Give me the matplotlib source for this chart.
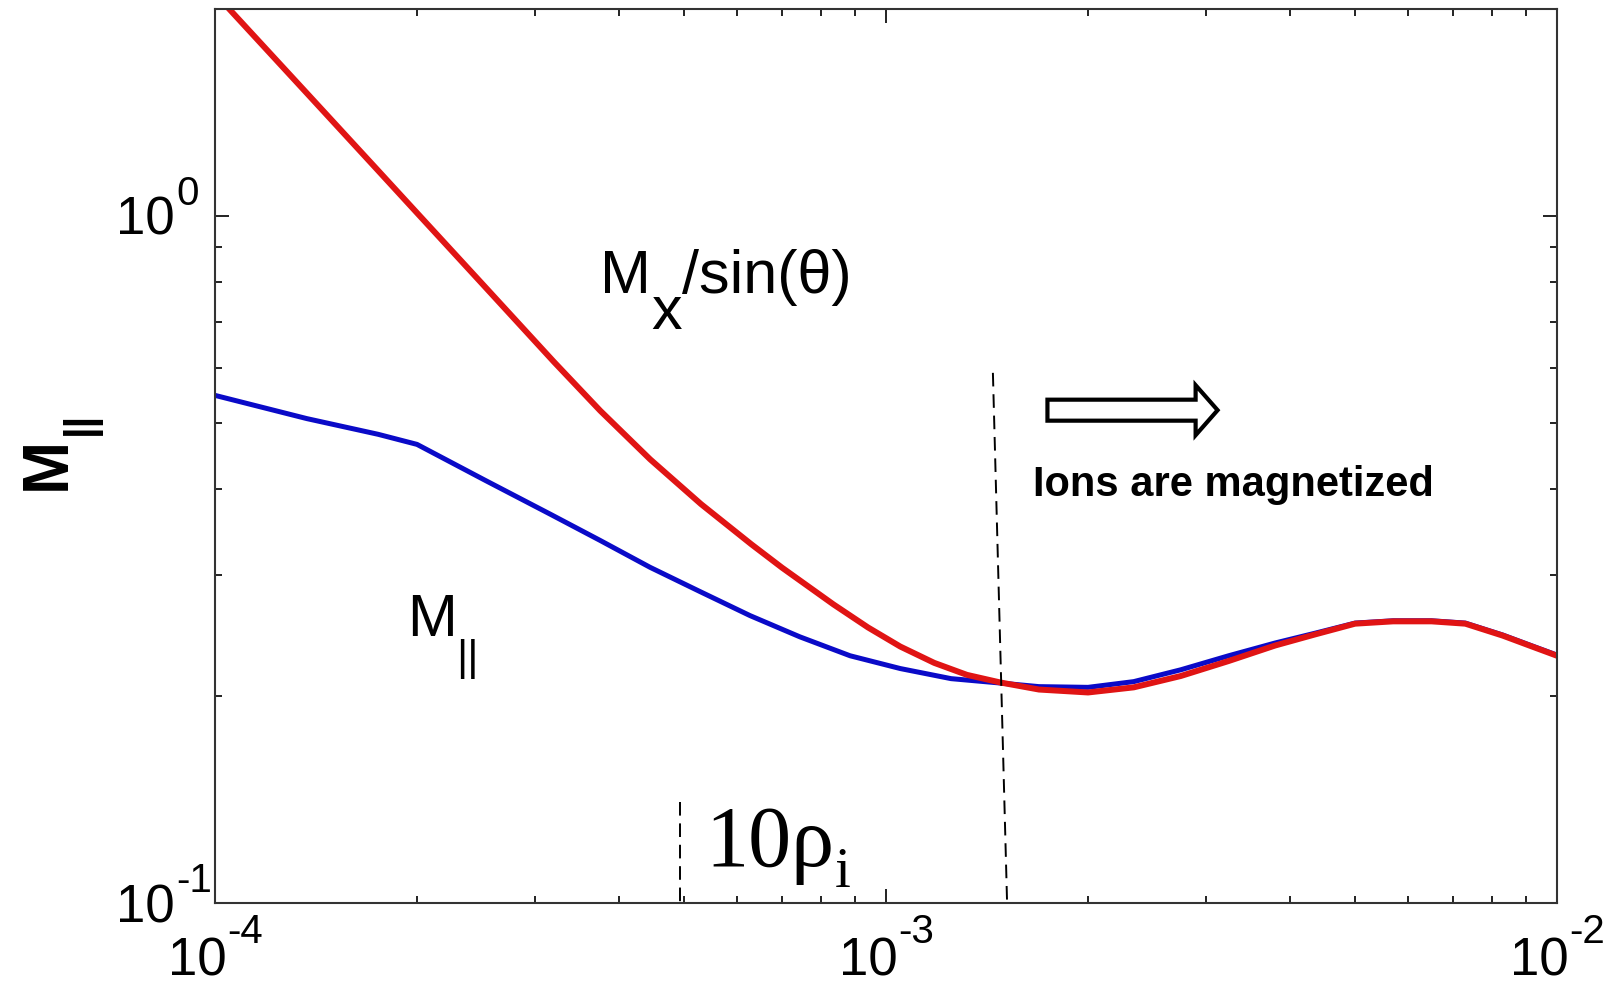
import matplotlib
matplotlib.use("Agg")
import matplotlib.pyplot as plt
from matplotlib.ticker import NullFormatter, LogLocator, FixedLocator
from matplotlib.transforms import IdentityTransform

plt.rcParams['font.family'] = ['Liberation Sans', 'DejaVu Sans']

# M_parallel (blue)
k_par = [1.0e-4, 1.37e-4, 1.75e-4, 2.0e-4, 2.53e-4, 3.16e-4, 3.75e-4, 4.45e-4,
         5.28e-4, 6.27e-4, 7.44e-4, 8.84e-4, 1.05e-3, 1.25e-3, 1.48e-3, 1.69e-3,
         2.0e-3, 2.34e-3, 2.75e-3, 3.24e-3, 3.8e-3, 4.36e-3, 5.0e-3, 5.7e-3,
         6.5e-3, 7.3e-3, 8.3e-3, 9.2e-3, 1.0e-2]
m_par = [0.548, 0.507, 0.481, 0.465, 0.412, 0.368, 0.337, 0.308,
         0.284, 0.262, 0.244, 0.229, 0.2194, 0.2121, 0.209, 0.2065,
         0.206, 0.210, 0.2185, 0.229, 0.239, 0.247, 0.2555, 0.2575,
         0.2575, 0.2555, 0.2455, 0.2365, 0.2295]

# M_x / sin(theta) (red)
k_x = [1.0e-4, 1.37e-4, 1.75e-4, 2.0e-4, 2.5e-4, 3.2e-4, 3.75e-4, 4.45e-4,
       5.3e-4, 6.3e-4, 7.0e-4, 8.35e-4, 9.4e-4, 1.05e-3, 1.18e-3, 1.32e-3,
       1.48e-3, 1.69e-3, 2.0e-3, 2.34e-3, 2.75e-3, 3.24e-3, 3.8e-3, 4.36e-3,
       5.0e-3, 5.7e-3, 6.5e-3, 7.3e-3, 8.3e-3, 9.2e-3, 1.0e-2]
m_x = [2.106, 1.509, 1.164, 1.01, 0.797, 0.613, 0.5206, 0.4424,
       0.3807, 0.3327, 0.3076, 0.272, 0.2518, 0.2362, 0.2236, 0.2148,
       0.2094, 0.2045, 0.2025, 0.206, 0.214, 0.225, 0.237, 0.246,
       0.255, 0.257, 0.257, 0.255, 0.245, 0.236, 0.229]

# dashed markers
rho_x = [4.93e-4, 4.93e-4]
rho_y = [0.1402, 0.1]
mag_x = [1.443e-3, 1.515e-3]
mag_y = [0.591, 0.1]

# decade ticks and their exponents
x_ticks = [1e-4, 1e-3, 1e-2]
x_exps = ['-4', '-3', '-2']
y_ticks = [1e-1, 1e0]
y_exps = ['-1', '0']

fig = plt.figure(figsize=(16.12, 9.84), dpi=100)
ax = fig.add_axes([0.1334, 0.0823, 0.8325, 0.9085])

ax.plot(k_par, m_par, color='#0a0ac8', lw=3.6, solid_joinstyle='round')
ax.plot(k_x, m_x, color='#e01414', lw=4.3, solid_joinstyle='round')
ax.plot(rho_x, rho_y, color='black', lw=1.4, dashes=(7, 4))
ax.plot(mag_x, mag_y, color='black', lw=1.4, dashes=(7, 4))

ax.set_xscale('log')
ax.set_yscale('log')
ax.set_xlim(1e-4, 1e-2)
ax.set_ylim(0.1, 2.0)
ax.xaxis.set_major_locator(FixedLocator(x_ticks))
ax.yaxis.set_major_locator(FixedLocator(y_ticks))
ax.xaxis.set_minor_locator(LogLocator(subs=range(2, 10)))
ax.yaxis.set_minor_locator(LogLocator(subs=range(2, 10)))
ax.xaxis.set_minor_formatter(NullFormatter())
ax.yaxis.set_minor_formatter(NullFormatter())

for s in ax.spines.values():
    s.set_linewidth(1.5)
    s.set_color('#333333')
ax.tick_params(which='both', direction='in', top=True, right=True, width=1.4, color='#222222',
               labelbottom=False, labelleft=False)
ax.tick_params(which='major', length=10)
ax.tick_params(which='minor', length=5)

# arrow
ax.annotate('', xy=(3.12e-3, 0.5215), xytext=(1.74e-3, 0.5215),
            arrowprops=dict(arrowstyle='simple,head_length=0.44,head_width=1.0,tail_width=0.42',
                            mutation_scale=36, fc='white', ec='black', lw=3,
                            shrinkA=0, shrinkB=0, joinstyle='miter'))

ax.text(1.656e-3, 0.3918, 'Ions are magnetized', fontsize=30, fontweight='bold',
        ha='left', va='baseline')

renderer = fig.canvas.get_renderer()
H = fig.bbox.height


def put(x, y, s, size, **kw):
    return fig.text(x, y, s, fontsize=size, transform=IdentityTransform(),
                    ha='left', va='baseline', **kw)


def chain_text(x, y, pieces):
    # place pieces one after another, each with its own size and vertical shift (px)
    x0, y0 = ax.transData.transform((x, y))
    for s, size, dy, kw in pieces:
        t = put(x0, y0 + dy, s, size, **kw)
        x0 = t.get_window_extent(renderer).x1


# MATLAB-like decade labels: "10" with the exponent raised above it
for xv, e in zip(x_ticks, x_exps):
    xd = ax.transData.transform((xv, 1))[0]
    base = put(0, 0, '10', 38)
    sup = put(0, 0, e, 29)
    w1 = base.get_window_extent(renderer).width
    w2 = sup.get_window_extent(renderer).width
    x0 = xd - (w1 + w2) / 2
    base.set_position((x0, H - 975))
    sup.set_position((x0 + w1 + 1, H - 943))

for yv, e in zip(y_ticks, y_exps):
    yd = ax.transData.transform((1e-3, yv))[1]
    base = put(0, 0, '10', 38)
    w1 = base.get_window_extent(renderer).width
    base.set_position((175 - w1, yd - 19))
    put(176, yd + 11, e, 29)

chain_text(3.75e-4, 0.7727, [('M', 44, 0, {}), ('x', 44, -36, {}), ('/sin(θ)', 44, 0, {})])
chain_text(1.93e-4, 0.2444, [('M', 43, 0, {}), ('||', 31, -34, {})])
serif = {'family': ['Liberation Serif', 'DejaVu Serif']}
chain_text(5.38e-4, 0.1132, [('10ρ', 62, 0, serif), ('i', 41, -21, serif)])

# rotated y label: bold M with || subscript
ylab = fig.text(65, H - 490, 'M', fontsize=46, fontweight='bold', rotation=90,
                rotation_mode='anchor', ha='left', va='baseline', transform=IdentityTransform())
ext = ylab.get_window_extent(renderer)
fig.text(92, ext.y1 + 2, '||', fontsize=30, fontweight='bold', rotation=90,
         rotation_mode='anchor', ha='left', va='baseline', transform=IdentityTransform())

fig.savefig('out.png', dpi=100, facecolor='white')
